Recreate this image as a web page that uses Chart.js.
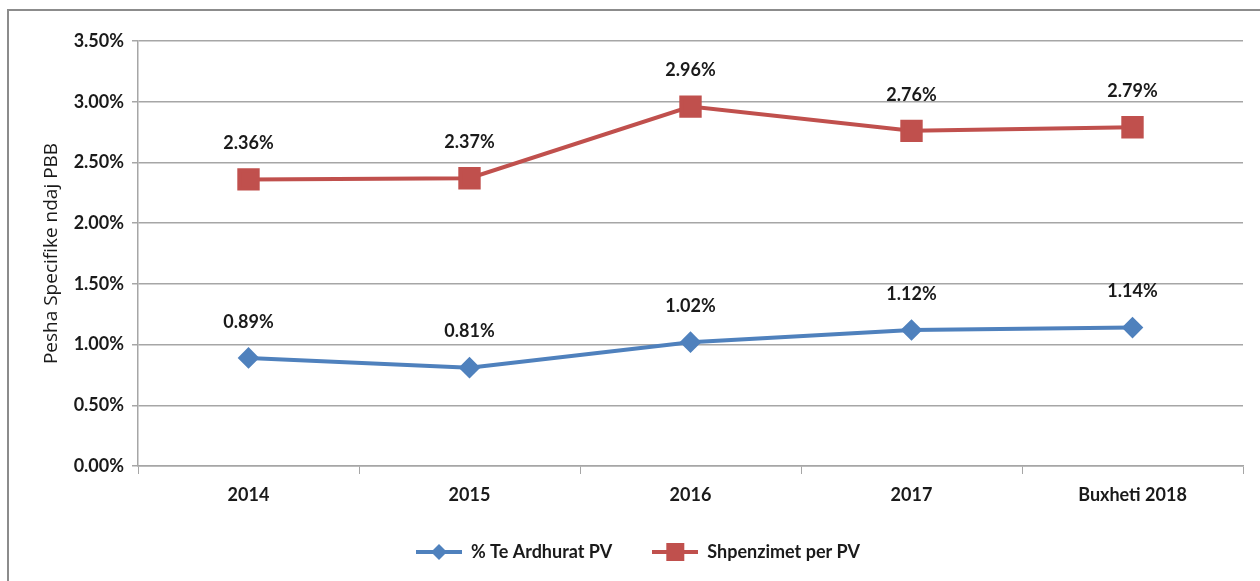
<!DOCTYPE html>
<html>
<head>
<meta charset="utf-8">
<script src="https://cdn.jsdelivr.net/npm/chart.js@4"></script>
<style>
  html, body { margin: 0; padding: 0; background: #fff; }
  #wrap { width: 1260px; height: 581px; position: relative; }
</style>
</head>
<body>
<div id="wrap"><canvas id="pvChart"></canvas></div>
<script>
const categories = ['2014', '2015', '2016', '2017', 'Buxheti 2018'];
const ardhuratPV = [0.89, 0.81, 1.02, 1.12, 1.14];
const shpenzimetPV = [2.36, 2.37, 2.96, 2.76, 2.79];
const yTicks = [0, 0.5, 1.0, 1.5, 2.0, 2.5, 3.0, 3.5];

const BLUE = '#4F81BD';
const RED = '#C0504D';
const FONT = 'Lato, "Open Sans", sans-serif';

function legendIcon(color, style) {
    const c = document.createElement('canvas');
    c.width = 46; c.height = 20;
    const ctx = c.getContext('2d');
    ctx.strokeStyle = color;
    ctx.lineWidth = 4;
    ctx.beginPath();
    ctx.moveTo(0, 10); ctx.lineTo(46, 10);
    ctx.stroke();
    ctx.fillStyle = color;
    ctx.beginPath();
    if (style === 'diamond') {
        ctx.moveTo(23, 2); ctx.lineTo(31, 10); ctx.lineTo(23, 18); ctx.lineTo(15, 10);
        ctx.closePath();
    } else {
        ctx.rect(14, 1, 18, 18);
    }
    ctx.fill();
    return c;
}

const frame = {
    id: 'frame',
    beforeDraw(chart) {
        const ctx = chart.ctx;
        ctx.save();
        ctx.strokeStyle = '#8c8c8c';
        ctx.lineWidth = 2;
        ctx.beginPath();
        ctx.moveTo(8, 581);
        ctx.lineTo(8, 10);
        ctx.lineTo(1260, 10);
        ctx.stroke();
        ctx.restore();
    }
};

const valueLabels = {
    id: 'valueLabels',
    afterDatasetsDraw(chart) {
        const ctx = chart.ctx;
        ctx.save();
        ctx.font = 'bold 18px ' + FONT;
        ctx.fillStyle = '#1a1a1a';
        ctx.textAlign = 'center';
        ctx.textBaseline = 'middle';
        chart.data.datasets.forEach((ds, i) => {
            chart.getDatasetMeta(i).data.forEach((pt, j) => {
                ctx.fillText(ds.data[j].toFixed(2) + '%', pt.x, pt.y - 36);
            });
        });
        ctx.restore();
    }
};

new Chart(document.getElementById('pvChart'), {
    type: 'line',
    data: {
        labels: categories,
        datasets: [{
            label: '% Te Ardhurat PV',
            data: ardhuratPV,
            borderColor: BLUE,
            backgroundColor: BLUE,
            borderWidth: 4,
            pointStyle: 'rectRot',
            pointRadius: 8,
            pointHoverRadius: 8,
            tension: 0
        }, {
            label: 'Shpenzimet per PV',
            data: shpenzimetPV,
            borderColor: RED,
            backgroundColor: RED,
            borderWidth: 4,
            pointStyle: 'rect',
            pointRadius: 13,
            pointHoverRadius: 13,
            tension: 0
        }]
    },
    options: {
        responsive: true,
        maintainAspectRatio: false,
        animation: false,
        layout: { padding: { left: 30, top: 41, right: 14, bottom: 10 } },
        plugins: {
            tooltip: { enabled: false },
            legend: {
                position: 'bottom',
                labels: {
                    color: '#1a1a1a',
                    font: { family: FONT, size: 18, weight: 'bold' },
                    usePointStyle: true,
                    pointStyleWidth: 46,
                    padding: 40,
                    generateLabels(chart) {
                        return chart.data.datasets.map((ds, i) => ({
                            text: ds.label,
                            datasetIndex: i,
                            pointStyle: legendIcon(ds.borderColor, i === 0 ? 'diamond' : 'square'),
                            fillStyle: ds.borderColor,
                            strokeStyle: ds.borderColor,
                            lineWidth: 0,
                            fontColor: '#1a1a1a'
                        }));
                    }
                }
            }
        },
        scales: {
            x: {
                offset: true,
                afterFit(scale) { scale.height = 37; },
                grid: {
                    offset: true,
                    drawOnChartArea: false,
                    drawTicks: true,
                    tickLength: 8,
                    color: '#a6a6a6'
                },
                border: { color: '#a6a6a6', width: 1.5 },
                ticks: {
                    color: '#1a1a1a',
                    padding: 10,
                    font: { family: FONT, size: 18, weight: 'bold' }
                }
            },
            y: {
                min: 0,
                max: 3.5,
                afterFit(scale) { scale.width = 108; },
                afterBuildTicks(scale) {
                    scale.ticks = yTicks.map(v => ({ value: v }));
                },
                grid: {
                    color: '#a6a6a6',
                    lineWidth: 1.5,
                    tickLength: 6
                },
                border: { color: '#a6a6a6', width: 1.5 },
                ticks: {
                    color: '#1a1a1a',
                    padding: 8,
                    font: { family: FONT, size: 18, weight: 'bold' },
                    callback: v => v.toFixed(2) + '%'
                },
                title: {
                    display: true,
                    text: 'Pesha Specifike ndaj PBB',
                    color: '#1a1a1a',
                    font: { family: '"Open Sans", sans-serif', size: 19 },
                    padding: { top: 10, bottom: 4 }
                }
            }
        }
    },
    plugins: [frame, valueLabels]
});
</script>
</body>
</html>
